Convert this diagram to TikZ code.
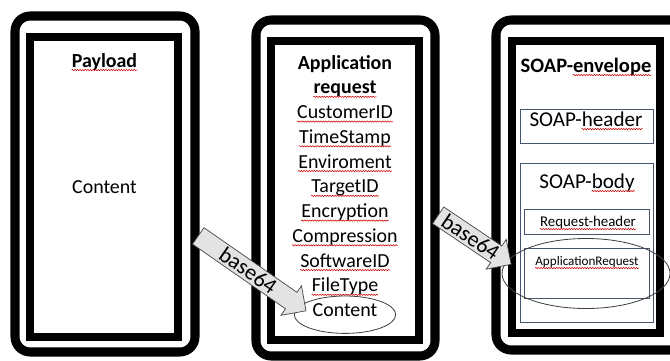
\documentclass[tikz,border=0pt]{standalone}
\usepackage{fontspec}
\setmainfont{Carlito}
\usetikzlibrary{shapes.arrows,decorations.pathmorphing}

\definecolor{slate}{RGB}{70,84,110}
\newcommand{\casing}[4]{\draw[line width=7.7pt, rounded corners=13pt] (#1,#2) rectangle (#3,#4)}
\newcommand{\inlay}[4]{\draw[line width=6.4pt] (#1,#2) rectangle (#3,#4)}
\newcommand{\spell}[1]{\draw[spell] ([yshift=-2.6pt]#1.base west) -- ([yshift=-2.6pt]#1.base east)}
\newcommand{\spelltail}[2]{\node[txt, anchor=base east] (#1w) at (#1.base east) {\phantom{#2}};
	\spell{#1w}}

\begin{document}
\begin{tikzpicture}[x=0.03cm, y=-0.03cm,
	txt/.style={inner sep=0pt, anchor=base, font=\fontsize{17}{20}\selectfont},
	big/.style={txt, font=\fontsize{18}{20}\selectfont},
	spell/.style={draw=red!80!black, line width=0.45pt, decorate,
		decoration={snake, amplitude=0.55pt, segment length=2.2pt}},
	thin/.style={draw=slate, line width=0.7pt},
	b64/.style={single arrow, draw=gray!55!black, fill=gray!22, line width=0.6pt,
		single arrow head extend=6.8pt, inner xsep=1pt, inner ysep=2pt,
		text height=12.5pt, text depth=0pt, font=\fontsize{19}{20}\selectfont}]
	\useasboundingbox (0,0) rectangle (670,360);
	\clip (0,0) rectangle (670,360);
%Frames
	\casing{15}{16}{195}{352};
	\inlay{30}{37}{178}{337};
	\casing{256}{20}{435}{356};
	\inlay{271}{41}{419}{340};
	\casing{496}{20}{690}{350};
	\inlay{512}{41}{660}{333};
%The payload
	\node[txt, font=\fontsize{17}{20}\selectfont\bfseries] (pay) at (104.5,67) {Payload};
	\spell{pay};
	\node[txt] (cont1) at (104.5,193) {Content};
%The application request
	\node[txt, font=\fontsize{17}{20}\selectfont\bfseries] (app) at (345,69) {Application};
	\node[txt, font=\fontsize{17}{20}\selectfont\bfseries] (req) at (345,93.75) {request};
	\spell{req};
	\foreach \w [count=\i] in {CustomerID,TimeStamp,Enviroment,TargetID,Encryption,Compression,SoftwareID,FileType} {
		\node[txt] (fld\i) at (345,{93.75+24.75*\i}) {\w};
		\spell{fld\i};
	}
	\node[txt] (cont2) at (345,316.5) {Content};
	\draw[thin, draw=black!75] (345,314.7) ellipse [x radius=50.7, y radius=18.7];
%The SOAP envelope
	\draw[thin] (520,109) rectangle (653,143);
	\draw[thin] (520,163) rectangle (653,322);
	\draw[thin] (524,209) rectangle (649,234);
	\draw[thin] (524,248) rectangle (649,298);
	\node[txt, font=\fontsize{17.5}{20}\selectfont\bfseries] (env) at (586,72) {SOAP-envelope};
	\spelltail{env}{\fontsize{17.5}{20}\selectfont\bfseries envelope};
	\node[big] (hdr) at (586,126) {SOAP-header};
	\spelltail{hdr}{\fontsize{18}{20}\selectfont header};
	\node[big] (body) at (587,188) {SOAP-body};
	\spelltail{body}{\fontsize{18}{20}\selectfont body};
	\node[txt, font=\fontsize{12.7}{14}\selectfont] (rqh) at (588,226) {Request-header};
	\spell{rqh};
	\node[txt, font=\fontsize{11.2}{14}\selectfont] (apr) at (587,265) {ApplicationRequest};
	\spell{apr};
	\draw[thin, draw=black!75] (586,273.5) ellipse [x radius=84, y radius=35];
%Encoding arrows
	\node[b64, rotate=-34.8, minimum height=112pt] (b64a) at (248,270.5) {base64};
	\node[b64, rotate=-33.9, minimum height=75pt] (b64b) at (470.5,237) {base64};
\end{tikzpicture}
\end{document}
